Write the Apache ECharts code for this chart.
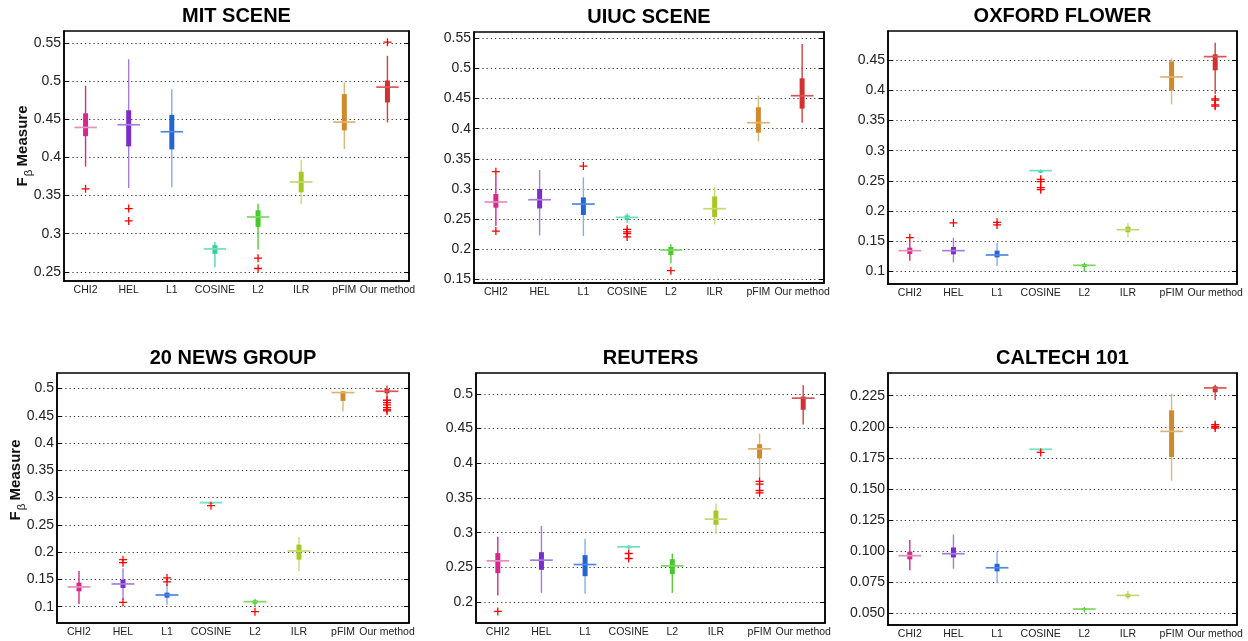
<!DOCTYPE html>
<html>
<head>
<meta charset="utf-8">
<script src="https://cdn.jsdelivr.net/npm/echarts@6/dist/echarts.min.js"></script>
<style>html,body{margin:0;padding:0;background:#fff}#c{width:1248px;height:641px}</style>
</head>
<body>
<div id="c"></div>
<script>
// ---------- DATA ----------
const categories = ['CHI2', 'HEL', 'L1', 'COSINE', 'L2', 'ILR', 'pFIM', 'Our method'];
const titles = ['MIT SCENE', 'UIUC SCENE', 'OXFORD FLOWER', '20 NEWS GROUP', 'REUTERS', 'CALTECH 101'];

// each row: [lower whisker, q1, median, q3, upper whisker]
const mitBoxes = [
  [0.388, 0.428, 0.4395, 0.458, 0.494],
  [0.360, 0.4146, 0.443, 0.462, 0.529],
  [0.361, 0.4107, 0.4338, 0.456, 0.4897],
  [0.2561, 0.2736, 0.2801, 0.285, 0.2893],
  [0.2793, 0.309, 0.322, 0.3308, 0.3395],
  [0.3387, 0.3544, 0.3679, 0.3814, 0.3972],
  [0.4111, 0.4356, 0.4465, 0.4832, 0.4985],
  [0.4461, 0.4723, 0.4924, 0.5011, 0.5334]
];
const mitOutliers = [[0, 0.359], [1, 0.333], [1, 0.3168], [4, 0.268], [4, 0.2544], [7, 0.5513]];

const uiucBoxes = [
  [0.2385, 0.269, 0.2784, 0.2916, 0.322],
  [0.223, 0.2678, 0.2822, 0.300, 0.3315],
  [0.2219, 0.2568, 0.275, 0.2861, 0.3193],
  [0.244, 0.2485, 0.2529, 0.2562, 0.2595],
  [0.1766, 0.1904, 0.1987, 0.2037, 0.2081],
  [0.2413, 0.2535, 0.2673, 0.2878, 0.3038],
  [0.379, 0.3934, 0.410, 0.4355, 0.4548],
  [0.410, 0.4333, 0.4548, 0.4836, 0.5406]
];
const uiucOutliers = [[0, 0.3287], [0, 0.2302], [2, 0.3381], [3, 0.233], [3, 0.229], [3, 0.226], [3, 0.2205], [4, 0.1644]];

const oxfordBoxes = [
  [0.1177, 0.1288, 0.1343, 0.1393, 0.1492],
  [0.115, 0.1282, 0.1343, 0.1404, 0.1558],
  [0.1089, 0.1232, 0.1271, 0.1343, 0.1464],
  [0.2626, 0.2637, 0.267, 0.2675, 0.2692],
  [0.0995, 0.1072, 0.110, 0.1122, 0.1144],
  [0.1564, 0.1647, 0.1691, 0.1741, 0.1796],
  [0.377, 0.4002, 0.4224, 0.4483, 0.4533],
  [0.3942, 0.4334, 0.4561, 0.460, 0.4793]
];
const oxfordOutliers = [[0, 0.1558], [1, 0.1802], [2, 0.1813], [2, 0.1769], [3, 0.2526], [3, 0.2487], [3, 0.2388], [3, 0.2355], [7, 0.386], [7, 0.384], [7, 0.376], [7, 0.374]];

const newsBoxes = [
  [0.1049, 0.1281, 0.1361, 0.144, 0.1654],
  [0.1128, 0.1343, 0.1416, 0.1495, 0.1703],
  [0.1037, 0.1165, 0.1214, 0.1257, 0.141],
  [0.2896, 0.2902, 0.2908, 0.2914, 0.292],
  [0.1006, 0.1055, 0.1092, 0.1116, 0.1147],
  [0.1654, 0.1862, 0.2021, 0.2138, 0.2278],
  [0.4578, 0.4774, 0.4927, 0.4951, 0.4957],
  [0.4829, 0.4914, 0.4951, 0.4994, 0.5055]
];
const newsOutliers = [[1, 0.1862], [1, 0.1807], [1, 0.108], [2, 0.1526], [2, 0.1453], [3, 0.2853], [4, 0.0908], [7, 0.4786], [7, 0.4743], [7, 0.470], [7, 0.4651], [7, 0.4615], [7, 0.459]];

const reutersBoxes = [
  [0.2096, 0.2418, 0.2595, 0.2706, 0.2941],
  [0.2134, 0.2466, 0.2605, 0.272, 0.3099],
  [0.212, 0.2374, 0.2542, 0.2677, 0.2912],
  [0.2763, 0.2778, 0.2797, 0.2811, 0.2821],
  [0.2134, 0.2403, 0.2523, 0.2619, 0.2701],
  [0.2984, 0.3114, 0.3195, 0.332, 0.3421],
  [0.3781, 0.4069, 0.4208, 0.4275, 0.4429],
  [0.4558, 0.477, 0.4938, 0.4962, 0.5125]
];
const reutersOutliers = [[0, 0.1866], [3, 0.2701], [3, 0.2629], [6, 0.3738], [6, 0.3699], [6, 0.3608], [6, 0.3574]];

const caltechBoxes = [
  [0.0846, 0.0934, 0.0964, 0.0996, 0.109],
  [0.0859, 0.095, 0.098, 0.103, 0.1135],
  [0.0744, 0.0838, 0.0867, 0.0899, 0.0993],
  [0.1813, 0.1816, 0.1819, 0.1821, 0.1824],
  [0.0508, 0.0527, 0.0535, 0.0543, 0.0551],
  [0.0615, 0.0629, 0.0645, 0.0658, 0.068],
  [0.1567, 0.1757, 0.1963, 0.2132, 0.2266],
  [0.2215, 0.2277, 0.2312, 0.2325, 0.2338]
];
const caltechOutliers = [[3, 0.1794], [7, 0.2017], [7, 0.2003], [7, 0.199]];

// tick labels (y axis)
const ticks1 = [0.25, 0.3, 0.35, 0.4, 0.45, 0.5, 0.55];
const ticks2 = [0.15, 0.2, 0.25, 0.3, 0.35, 0.4, 0.45, 0.5, 0.55];
const ticks3 = [0.1, 0.15, 0.2, 0.25, 0.3, 0.35, 0.4, 0.45];
const ticks4 = [0.1, 0.15, 0.2, 0.25, 0.3, 0.35, 0.4, 0.45, 0.5];
const ticks5 = [0.2, 0.25, 0.3, 0.35, 0.4, 0.45, 0.5];
const ticks6 = [0.05, 0.075, 0.1, 0.125, 0.15, 0.175, 0.2, 0.225];

// ---------- STYLE / LAYOUT ----------
const palette = [
  {box: '#d6288b', whisker: '#cf2f8e', median: '#e68fc0'},
  {box: '#7a2dc9', whisker: '#a67ce2', median: '#a67ce2'},
  {box: '#2366d1', whisker: '#88ace6', median: '#4f88e0'},
  {box: '#33cf9f', whisker: '#52d8b0', median: '#6fe0c1'},
  {box: '#47c82b', whisker: '#56cd36', median: '#7ad962'},
  {box: '#a6c823', whisker: '#c5dc78', median: '#c3da72'},
  {box: '#d08a2a', whisker: '#e0b57a', median: '#e0b273'},
  {box: '#d23131', whisker: '#d63d3d', median: '#da5656'}
];
const panels = [
  {boxes: mitBoxes, out: mitOutliers, ticks: ticks1, min: 0.238, max: 0.566, grid: {left: 64, top: 31, width: 345, height: 250}, ylabel: true, shift: 20},
  {boxes: uiucBoxes, out: uiucOutliers, ticks: ticks2, min: 0.144, max: 0.5605, grid: {left: 474, top: 32, width: 350, height: 251}},
  {boxes: oxfordBoxes, out: oxfordOutliers, ticks: ticks3, min: 0.079, max: 0.4986, grid: {left: 888, top: 31, width: 349, height: 253}},
  {boxes: newsBoxes, out: newsOutliers, ticks: ticks4, min: 0.070, max: 0.5286, grid: {left: 57, top: 373, width: 352, height: 250}, ylabel: true, shift: 36},
  {boxes: reutersBoxes, out: reutersOutliers, ticks: ticks5, min: 0.170, max: 0.530, grid: {left: 476, top: 373, width: 349, height: 250}},
  {boxes: caltechBoxes, out: caltechOutliers, ticks: ticks6, min: 0.0407, max: 0.2432, grid: {left: 888, top: 373, width: 349, height: 252}, fixed3: true}
];

const FONT = '"Liberation Sans", Arial, Helvetica, sans-serif';
const plusPath = 'path://M4.2,0h1.6v4.2h4.2v1.6h-4.2v4.2h-1.6v-4.2h-4.2v-1.6h4.2z';

function renderBox(params, api) {
  const i = api.value(0);
  const lo = api.coord([i, api.value(1)]);
  const q1 = api.coord([i, api.value(2)]);
  const md = api.coord([i, api.value(3)]);
  const q3 = api.coord([i, api.value(4)]);
  const hi = api.coord([i, api.value(5)]);
  const band = api.size([1, 0])[0];
  const c = palette[i];
  const h = Math.max(q1[1] - q3[1], 1.5);
  return {
    type: 'group',
    children: [
      {type: 'line', shape: {x1: lo[0], y1: lo[1], x2: hi[0], y2: hi[1]}, style: {stroke: c.whisker, lineWidth: 1.4}},
      {type: 'rect', shape: {x: q3[0] - 2.5, y: q3[1], width: 5, height: h}, style: {fill: c.box}},
      {type: 'line', shape: {x1: md[0] - band * 0.26, y1: md[1], x2: md[0] + band * 0.26, y2: md[1]}, style: {stroke: c.median, lineWidth: 1.7}}
    ]
  };
}

const option = {
  animation: false,
  backgroundColor: '#fff',
  title: [], grid: [], xAxis: [], yAxis: [], series: []
};

panels.forEach((p, k) => {
  const g = p.grid;
  option.grid.push({left: g.left, top: g.top, width: g.width, height: g.height, show: true, borderColor: '#000', borderWidth: 1.5, backgroundColor: 'transparent', containLabel: false});
  option.title.push({
    text: titles[k], left: g.left + g.width / 2, textAlign: 'center', top: g.top - 26, padding: 0,
    textStyle: {fontFamily: FONT, fontWeight: 'bold', fontSize: 20, color: '#000', lineHeight: 22}
  });
  option.xAxis.push({
    type: 'category', gridIndex: k, data: categories, boundaryGap: true,
    axisLine: {show: true, lineStyle: {color: '#000', width: 1.5}},
    axisTick: {show: false},
    axisLabel: {interval: 0, margin: 4, fontFamily: FONT, fontSize: 10.5, color: '#222'},
    splitLine: {show: false}
  });
  const fmt = p.fixed3 ? (v => v.toFixed(3)) : (v => String(+v.toFixed(3)));
  const yl = {
    type: 'value', gridIndex: k, min: p.min, max: p.max, position: 'left',
    axisLine: {show: true, lineStyle: {color: '#000', width: 1.5}},
    axisTick: {show: true, inside: true, length: 5, customValues: p.ticks, lineStyle: {color: '#000', width: 1}},
    axisLabel: {customValues: p.ticks, formatter: fmt, margin: 3, fontFamily: FONT, fontSize: 14, color: '#222'},
    splitLine: {show: true, lineStyle: {color: '#333', width: 1, type: [1.2, 3]}}
  };
  if (p.ylabel) {
    yl.name = '{b|F}{s|β} {b|Measure}';
    yl.nameLocation = 'middle';
    yl.nameRotate = 90;
    yl.nameGap = 29;
    yl.nameMoveOverlap = false;
    yl.nameTextStyle = {
      padding: [0, 0, 0, p.shift],
      rich: {
        b: {fontFamily: FONT, fontWeight: 'bold', fontSize: 15, color: '#111', lineHeight: 24, verticalAlign: 'middle'},
        s: {fontFamily: FONT, fontSize: 11.5, color: '#111', lineHeight: 24, verticalAlign: 'bottom', padding: [0, 0, 0, 1]}
      }
    };
  }
  option.yAxis.push(yl);
  option.yAxis.push({
    type: 'value', gridIndex: k, min: p.min, max: p.max, position: 'right',
    axisLine: {show: true, lineStyle: {color: '#000', width: 1.5}},
    axisTick: {show: true, inside: true, length: 5, customValues: p.ticks, lineStyle: {color: '#000', width: 1}},
    axisLabel: {show: false},
    splitLine: {show: false}
  });
  option.series.push({
    type: 'custom', xAxisIndex: k, yAxisIndex: 2 * k, renderItem: renderBox,
    encode: {x: 0, y: [1, 2, 3, 4, 5]},
    data: p.boxes.map((b, i) => [i].concat(b)),
    z: 2
  });
  option.series.push({
    type: 'scatter', xAxisIndex: k, yAxisIndex: 2 * k, symbol: plusPath, symbolSize: 8,
    itemStyle: {color: '#ff0000', opacity: 1}, data: p.out, z: 3, silent: true
  });
});

const chart = echarts.init(document.getElementById('c'), null, {renderer: 'canvas'});
chart.setOption(option);
</script>
</body>
</html>
